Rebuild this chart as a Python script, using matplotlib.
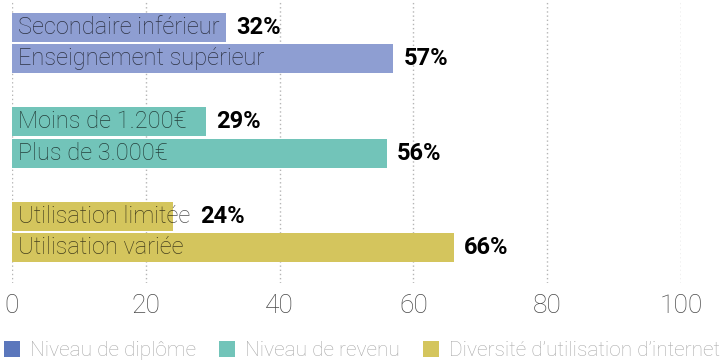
import matplotlib
matplotlib.use("Agg")
import matplotlib.pyplot as plt
from matplotlib.patches import Patch
import matplotlib.transforms as mtransforms

plt.rcParams['font.family'] = ['Roboto', 'DejaVu Sans']

# answers per group, two bars each
groups = ["Niveau de diplôme", "Niveau de revenu", "Diversité d’utilisation d’internet"]
labels = [
    ["Secondaire inférieur", "Enseignement supérieur"],
    ["Moins de 1.200€", "Plus de 3.000€"],
    ["Utilisation limitée", "Utilisation variée"],
]
values = [
    [32, 57],
    [29, 56],
    [24, 66],
]
bar_colors = ["#8e9ed2", "#72c4b9", "#d4c55d"]
legend_colors = ["#5b77bc", "#72c4b9", "#d4c55d"]
xticks = [0, 20, 40, 60, 80, 100]

fig = plt.figure(figsize=(7.26, 3.6), dpi=100)
ax = fig.add_axes([12 / 726, 77 / 360, (681 - 12) / 726, 283 / 360])

names = []
for g in range(len(groups)):
    for r in range(2):
        y = g * 3 + r
        v = values[g][r]
        ax.barh(y, v, height=0.92, color=bar_colors[g], zorder=2)
        t = ax.text(0, y, labels[g][r], va='center', ha='left',
                    fontsize=17, fontweight='light', color='black', alpha=0.68,
                    transform=mtransforms.offset_copy(ax.transData, fig=fig, x=6, y=0, units='dots'),
                    zorder=3, clip_on=False)
        names.append((t, y, v))

ax.set_xlim(0, 100)
ax.set_ylim(8.127, -0.873)
ax.set_xticks(xticks)
ax.set_xticklabels([str(x) for x in xticks])
ax.set_yticks([])
ax.tick_params(axis='x', length=0, pad=8, labelsize=19, labelcolor='#4a4a4a')
for lab in ax.get_xticklabels():
    lab.set_fontweight('light')
ax.grid(axis='x', linestyle=(0, (1, 2)), color='#b5b5b5', linewidth=1, zorder=0)
for s in ax.spines.values():
    s.set_visible(False)

# percentages go right of the bar, or of the name when it spills over
fig.canvas.draw()
renderer = fig.canvas.get_renderer()
for t, y, v in names:
    bar_end = ax.transData.transform((v, y))[0]
    text_end = t.get_window_extent(renderer).x1
    x_px = max(bar_end, text_end) + 10
    x_data = ax.transData.inverted().transform((x_px, 0))[0]
    ax.text(x_data, y, f"{v}%", va='center', ha='left', fontsize=17,
            fontweight='bold', color='black', clip_on=False, zorder=3)

handles = [Patch(facecolor=c, edgecolor='none') for c in legend_colors]
leg = fig.legend(handles, groups, loc='lower left', bbox_to_anchor=(0.0, -0.012),
                 ncol=3, frameon=False, fontsize=15, handlelength=0.75, handleheight=0.75,
                 handletextpad=0.5, columnspacing=1.1, borderaxespad=0, borderpad=0.2)
for txt in leg.get_texts():
    txt.set_color('#aaaaaa')
    txt.set_fontweight('light')

fig.savefig("out.png", dpi=100)
